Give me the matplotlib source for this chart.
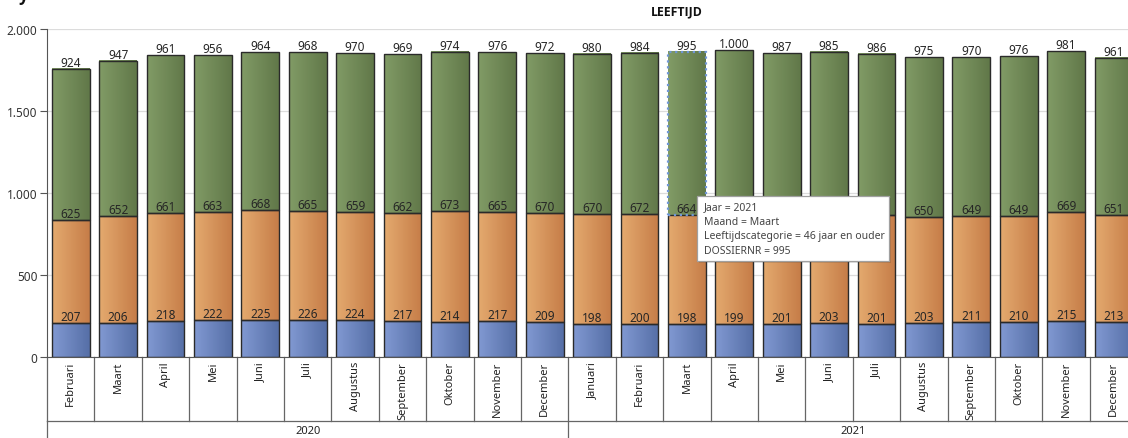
import numpy as np
import matplotlib
matplotlib.use("Agg")
import matplotlib.pyplot as plt
from matplotlib.colors import LinearSegmentedColormap
from matplotlib.patches import Rectangle

# Data
years = ["2020", "2021"]
months_2020 = ["Februari", "Maart", "April", "Mei", "Juni", "Juli", "Augustus",
               "September", "Oktober", "November", "December"]
months_2021 = ["Januari", "Februari", "Maart", "April", "Mei", "Juni", "Juli",
               "Augustus", "September", "Oktober", "November", "December"]
months = months_2020 + months_2021

young = [207, 206, 218, 222, 225, 226, 224, 217, 214, 217, 209,
         198, 200, 198, 199, 201, 203, 201, 203, 211, 210, 215, 213]
middle = [625, 652, 661, 663, 668, 665, 659, 662, 673, 665, 670,
          670, 672, 664, 673, 664, 673, 663, 650, 649, 649, 669, 651]
old = [924, 947, 961, 956, 964, 968, 970, 969, 974, 976, 972,
       980, 984, 995, 1000, 987, 985, 986, 975, 970, 976, 981, 961]

yticks = [0, 500, 1000, 1500, 2000]
tooltip_lines = ["Jaar = 2021", "Maand = Maart",
                 "Leeftijdscategorie = 46 jaar en ouder", "DOSSIERNR = 995"]
highlight = 13  # Maart 2021, green segment

series = [
    (young, "#8199d2", "#566fa7"),
    (middle, "#e4aa6f", "#c67d48"),
    (old, "#819b66", "#617849"),
]

plt.rcParams["font.family"] = ["Noto Sans", "DejaVu Sans"]
bold_family = ["Open Sans", "DejaVu Sans"]


def nl(v):
    return f"{v:,}".replace(",", ".")


W, H = 1128, 439
fig = plt.figure(figsize=(W / 100, H / 100), dpi=100)

n = len(months)
pitch = 47.4
left_px, top_px, zero_px = 47, 30, 357.7
ax = fig.add_axes([left_px / W, (H - zero_px) / H,
                   n * pitch / W, (zero_px - top_px) / H])

x = np.arange(n)
width = 0.8
bottom = np.zeros(n)
grad = np.linspace(0, 1, 50).reshape(1, -1)

for k, (vals, c0, c1) in enumerate(series):
    vals = np.array(vals)
    cmap = LinearSegmentedColormap.from_list(f"g{k}", [c0, c1])
    for i in range(n):
        x0 = x[i] - width / 2
        y0 = bottom[i]
        y1 = bottom[i] + vals[i]
        ax.imshow(grad, extent=[x0, x0 + width, y0, y1], aspect="auto",
                  cmap=cmap, zorder=2, interpolation="bilinear")
        if k == 2 and i == highlight:
            ax.add_patch(Rectangle((x0, y0), width, vals[i], fill=False,
                                   edgecolor="#6f96d6", lw=1.6, ls=":", zorder=3))
        else:
            ax.add_patch(Rectangle((x0, y0), width, vals[i], fill=False,
                                   edgecolor="#2a2a2a", lw=1.0, zorder=3))
        ax.text(x[i], y1, nl(int(vals[i])), ha="center", va="bottom",
                fontsize=8.5, color="#262626", zorder=4)
    bottom += vals

ax.set_xlim(-0.5, n - 0.5)
ax.set_ylim(0, 2000)
ax.set_yticks(yticks)
ax.set_yticklabels([nl(t) for t in yticks], fontsize=8.5, color="#333333")
ax.tick_params(axis="y", length=5, width=0.8, color="#555555", pad=2)
ax.set_xticks([])
ax.grid(axis="y", color="#dcdcdc", lw=0.9, zorder=0)
ax.set_axisbelow(True)
for s in ["top", "right"]:
    ax.spines[s].set_visible(False)
ax.spines["left"].set_color("#555555")
ax.spines["bottom"].set_color("#555555")

# category boxes under the axis
tr = ax.get_xaxis_transform()
ax_h = zero_px - top_px
row1 = -(421.7 - zero_px) / ax_h
row_end = -(H + 2 - zero_px) / ax_h
for i in range(n + 1):
    ax.plot([i - 0.5, i - 0.5], [0, row1], transform=tr, color="#666666",
            lw=0.9, clip_on=False)
ax.plot([-0.5, n - 0.5], [row1, row1], transform=tr, color="#666666",
        lw=0.9, clip_on=False)
for b in [-0.5, len(months_2020) - 0.5, n - 0.5]:
    ax.plot([b, b], [row1, row_end], transform=tr, color="#666666",
            lw=0.9, clip_on=False)
for i, m in enumerate(months):
    ax.text(x[i], -(362 - zero_px) / ax_h, m, transform=tr, rotation=90,
            ha="center", va="top", fontsize=8, color="#222222")
year_mid = [(len(months_2020) - 1) / 2,
            len(months_2020) + (len(months_2021) - 1) / 2]
for yr, xm in zip(years, year_mid):
    ax.text(xm, -(432 - zero_px) / ax_h, yr, transform=tr, ha="center",
            va="center", fontsize=8, color="#222222")

# titles
fig.text(677 / W, 1 - 12 / H, "LEEFTIJD", ha="center", va="center",
         fontsize=8.8, fontweight="bold", family=bold_family, color="#111111")
fig.text(24 / W, 1 + 4 / H, "y", ha="center", va="center",
         fontsize=12, fontweight="bold", family=bold_family, color="#111111")

# tooltip
tx0, tx1, ty0, ty1 = 697, 889, 197, 262
fig.patches.append(Rectangle((tx0 / W + 2 / W, 1 - ty1 / H - 2 / H),
                             (tx1 - tx0) / W, (ty1 - ty0) / H,
                             transform=fig.transFigure, facecolor="#000000",
                             alpha=0.12, edgecolor="none", zorder=9))
fig.patches.append(Rectangle((tx0 / W, 1 - ty1 / H), (tx1 - tx0) / W,
                             (ty1 - ty0) / H, transform=fig.transFigure,
                             facecolor="white", edgecolor="#a0a0a0", lw=0.9,
                             zorder=10))
for j, line in enumerate(tooltip_lines):
    fig.text(704 / W, 1 - (208 + j * 14.5) / H, line, ha="left",
             va="center", fontsize=7.5, color="#444444", zorder=11)

fig.savefig("out.png", dpi=100)
